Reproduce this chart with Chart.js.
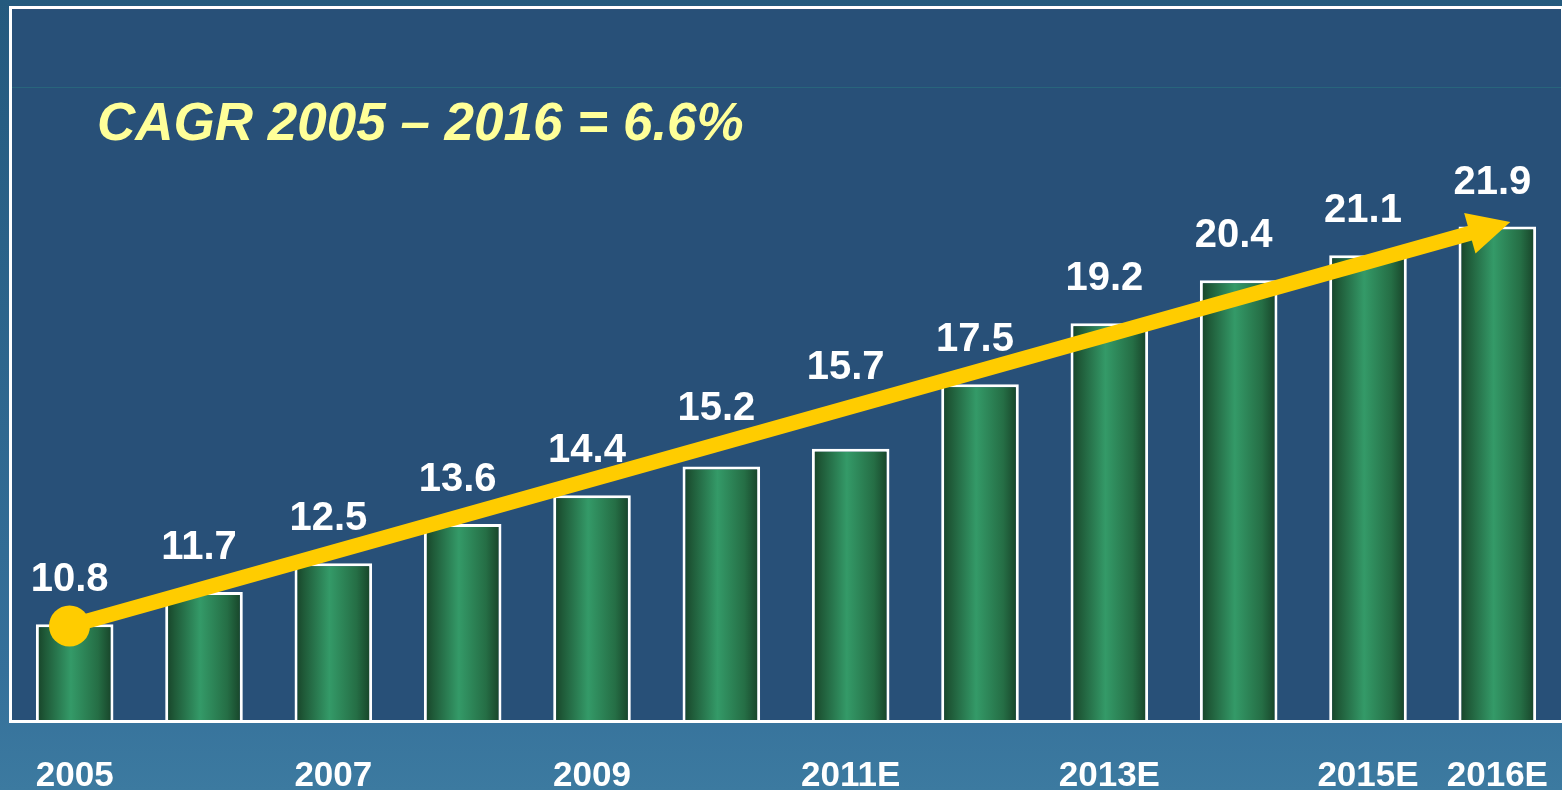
<!DOCTYPE html>
<html><head><meta charset="utf-8">
<script src="https://cdn.jsdelivr.net/npm/chart.js@4.4.1/dist/chart.umd.min.js"></script>
<style>
html,body{margin:0;padding:0;overflow:hidden;background:#2f6a90;}
#wrap{width:1562px;height:790px;position:relative;}
canvas{display:block;}
</style></head><body>
<div id="wrap"><canvas id="c" width="1562" height="790"></canvas></div>
<script>
// ---- data ----
const categories = ['2005','2006','2007','2008','2009','2010','2011E','2012E','2013E','2014E','2015E','2016E'];
const values = [10.8, 11.7, 12.5, 13.6, 14.4, 15.2, 15.7, 17.5, 19.2, 20.4, 21.1, 21.9];
const shownTicks = ['2005','2007','2009','2011E','2013E','2015E','2016E'];
const titleText = 'CAGR 2005 \u2013 2016 = 6.6%';
const arrowFrom = [-0.04, 10.75];
const arrowTo = [11.1, 22.03];
const yMin = 8.1, yMax = 28;

// ---- styles ----
const barPct = 0.6;
const FONT = "'Liberation Sans', Arial, sans-serif";
const labelLift = [0, 0, 0, 0, 0, 14, 37, 0, 0, 0, 0, 0]; // extra px lift so labels clear the arrow

const framePlugin = {
  id: 'frame',
  beforeDraw(chart) {
    const ctx = chart.ctx, W = chart.width, H = chart.height;
    const {left, top, right, bottom} = chart.chartArea;
    ctx.save();
    const g = ctx.createLinearGradient(0, 0, 0, H);
    g.addColorStop(0, '#245a7e');
    g.addColorStop(0.85, '#35709a');
    g.addColorStop(1, '#3c7aa0');
    ctx.fillStyle = g;
    ctx.fillRect(0, 0, W, H);
    ctx.fillStyle = '#285078';
    ctx.fillRect(left, top, right - left, bottom - top);
    ctx.strokeStyle = 'rgba(40,110,125,0.7)';
    ctx.lineWidth = 1;
    ctx.beginPath(); ctx.moveTo(left, 87.5); ctx.lineTo(right, 87.5); ctx.stroke();
    // title
    ctx.fillStyle = '#ffff99';
    ctx.font = "italic bold 53px " + FONT;
    ctx.textBaseline = 'alphabetic';
    ctx.textAlign = 'left';
    ctx.fillText(titleText, left + 87, 140);
    ctx.restore();
  },
  afterDatasetsDraw(chart) {
    const ctx = chart.ctx;
    const {left, top, right, bottom} = chart.chartArea;
    const xs = chart.scales.x, ys = chart.scales.y;
    ctx.save();
    // frame
    ctx.strokeStyle = '#ffffff';
    ctx.lineWidth = 3;
    ctx.strokeRect(left + 0.5, top - 0.5, right - left, bottom - top + 1);
    // arrow
    const x1 = xs.getPixelForValue(arrowFrom[0]), y1 = ys.getPixelForValue(arrowFrom[1]);
    const x2 = xs.getPixelForValue(arrowTo[0]), y2 = ys.getPixelForValue(arrowTo[1]);
    const dx = x2 - x1, dy = y2 - y1, len = Math.hypot(dx, dy);
    const ux = dx / len, uy = dy / len, px = -uy, py = ux;
    const hl = 42, hw = 21;
    const bx = x2 - ux * hl, by = y2 - uy * hl;
    ctx.strokeStyle = '#ffcc00';
    ctx.fillStyle = '#ffcc00';
    ctx.lineWidth = 15;
    ctx.beginPath(); ctx.moveTo(x1, y1); ctx.lineTo(bx + ux * 2, by + uy * 2); ctx.stroke();
    ctx.beginPath();
    ctx.moveTo(x2, y2);
    ctx.lineTo(bx + px * hw, by + py * hw);
    ctx.lineTo(bx - px * hw, by - py * hw);
    ctx.closePath(); ctx.fill();
    ctx.beginPath(); ctx.arc(x1, y1, 20.5, 0, Math.PI * 2); ctx.fill();
    // value labels
    const meta = chart.getDatasetMeta(0);
    ctx.fillStyle = '#ffffff';
    ctx.font = "bold 40px " + FONT;
    ctx.textAlign = 'center';
    ctx.textBaseline = 'alphabetic';
    meta.data.forEach((bar, i) => {
      ctx.fillText(values[i].toFixed(1), bar.x - 5, bar.y - 33 - labelLift[i]);
    });
    ctx.restore();
  }
};

function barGradient(c) {
  const ch = c.chart, xs = ch.scales && ch.scales.x;
  if (!xs || c.dataIndex === undefined) return '#2e8b57';
  const cx = xs.getPixelForValue(c.dataIndex);
  const w = xs.width / categories.length * barPct;
  if (!isFinite(cx) || !isFinite(w) || w <= 0) return '#2e8b57';
  const g = ch.ctx.createLinearGradient(cx - w / 2, 0, cx + w / 2, 0);
  g.addColorStop(0, '#163f26');
  g.addColorStop(0.12, '#1f5a38');
  g.addColorStop(0.45, '#349a68');
  g.addColorStop(0.8, '#256e45');
  g.addColorStop(1, '#163f26');
  return g;
}

const chart = new Chart(document.getElementById('c'), {
  type: 'bar',
  data: {
    labels: categories,
    datasets: [{
      data: values,
      backgroundColor: barGradient,
      borderColor: '#ffffff',
      borderWidth: 3,
      borderSkipped: 'bottom',
      barPercentage: barPct,
      categoryPercentage: 1.0
    }]
  },
  options: {
    responsive: false,
    animation: false,
    devicePixelRatio: 1,
    layout: { padding: { left: 10, top: 8, right: -5, bottom: 0 } },
    plugins: { legend: { display: false }, tooltip: { enabled: false } },
    scales: {
      y: { display: false, min: yMin, max: yMax },
      x: {
        grid: { display: false, drawTicks: false },
        border: { display: false },
        ticks: {
          color: '#ffffff',
          font: { family: FONT, size: 35, weight: 'bold', lineHeight: 1.2 },
          padding: 34,
          autoSkip: false,
          maxRotation: 0,
          callback: function(v, i) {
            const lab = categories[i];
            return shownTicks.includes(lab) ? lab : '';
          }
        },
        afterFit: (s) => { s.height = 69; s.paddingLeft = 0; s.paddingRight = 0; }
      }
    }
  },
  plugins: [framePlugin]
});
chart.update();
</script>
</body></html>
